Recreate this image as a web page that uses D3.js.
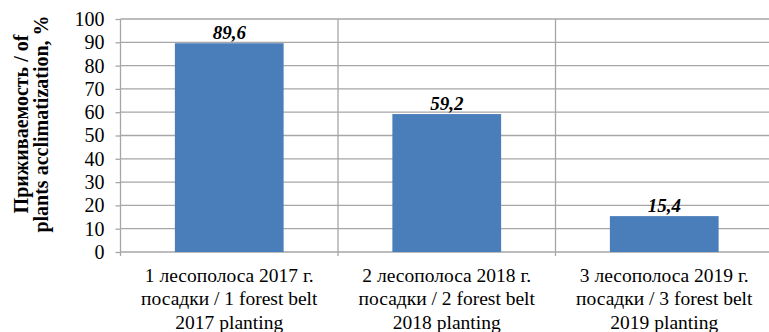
<!DOCTYPE html>
<html>
<head>
<meta charset="utf-8">
<script src="https://cdn.jsdelivr.net/npm/d3@7"></script>
<style>
    body { margin: 0; background: #fff; }
    svg text { font-family: "Liberation Serif", "DejaVu Serif", serif; }
</style>
</head>
<body>
<div id="chart"></div>
<script>
// data
const categories = ["belt1", "belt2", "belt3"]
const categoryLines = [
    ["1 лесополоса 2017 г.", "посадки / 1 forest belt", "2017 planting"],
    ["2 лесополоса 2018 г.", "посадки / 2 forest belt", "2018 planting"],
    ["3 лесополоса 2019 г.", "посадки / 3 forest belt", "2019 planting"]
]
const values = [89.6, 59.2, 15.4]
const valueLabels = ["89,6", "59,2", "15,4"]
const yTicks = [0, 10, 20, 30, 40, 50, 60, 70, 80, 90, 100]
const yTitle = ["Приживаемость / of", "plants acclimatization, %"]

const W = 769, H = 332
const margin = { top: 19, right: -4, bottom: 80, left: 120.5 }
const width = W - margin.left - margin.right
const height = H - margin.top - margin.bottom

const svg = d3.select("#chart").append("svg")
    .attr("width", W)
    .attr("height", H)

const g = svg.append("g")
    .attr("transform", "translate(" + margin.left + "," + margin.top + ")")

const x = d3.scaleBand()
    .domain(categories)
    .range([0, width])
    .paddingInner(0.5)
    .paddingOuter(0.25)

const y = d3.scaleLinear()
    .domain([0, 100])
    .range([height, 0])

const GRID = "#a6a6a6"

// horizontal grid
g.selectAll(".hgrid")
    .data(yTicks.filter(d => d > 0))
    .enter().append("line")
    .attr("class", "hgrid")
    .attr("x1", 0).attr("x2", width)
    .attr("y1", d => y(d)).attr("y2", d => y(d))
    .attr("stroke", GRID)
    .attr("stroke-width", 1.3)

// vertical grid at category boundaries
const step = x.step()
const bounds = categories.map(c => x(c) - x.paddingOuter() * step + step)
g.selectAll(".vgrid")
    .data(bounds.slice(0, -1))
    .enter().append("line")
    .attr("class", "vgrid")
    .attr("x1", d => d).attr("x2", d => d)
    .attr("y1", 0).attr("y2", height + 4)
    .attr("stroke", GRID)
    .attr("stroke-width", 1.3)

// y axis
const yAxis = d3.axisLeft(y)
    .tickValues(yTicks)
    .tickSize(5)
    .tickPadding(11)

g.append("g")
    .attr("class", "y-axis")
    .call(yAxis)
    .attr("font-family", null)
    .call(a => a.select(".domain").attr("stroke", GRID).attr("stroke-width", 1.3).attr("d", "M0," + (height + 4) + "V0"))
    .call(a => a.selectAll(".tick line").attr("stroke", GRID).attr("stroke-width", 1.3))
    .call(a => a.selectAll(".tick text")
        .attr("font-size", "20px")
        .attr("fill", "#000"))

// x axis line
g.append("line")
    .attr("x1", 0).attr("x2", width)
    .attr("y1", height).attr("y2", height)
    .attr("stroke", GRID)
    .attr("stroke-width", 1.3)

// bars
g.selectAll(".bar")
    .data(values)
    .enter().append("rect")
    .attr("class", "bar")
    .attr("x", (d, i) => x(categories[i]))
    .attr("width", x.bandwidth())
    .attr("y", d => y(d))
    .attr("height", d => height - y(d))
    .attr("fill", "#4a7ebb")

// value labels
g.selectAll(".val")
    .data(values)
    .enter().append("text")
    .attr("class", "val")
    .attr("x", (d, i) => x(categories[i]) + x.bandwidth() / 2)
    .attr("y", d => y(d) - 4)
    .attr("text-anchor", "middle")
    .attr("font-size", "19px")
    .attr("font-weight", "bold")
    .attr("font-style", "italic")
    .text((d, i) => valueLabels[i])

// category labels
const catG = g.selectAll(".cat")
    .data(categories)
    .enter().append("text")
    .attr("class", "cat")
    .attr("text-anchor", "middle")
    .attr("font-size", "19.5px")
    .attr("transform", d => "translate(" + (x(d) + x.bandwidth() / 2) + "," + (height + 29.5) + ")")

catG.selectAll("tspan")
    .data((d, i) => categoryLines[i])
    .enter().append("tspan")
    .attr("x", 0)
    .attr("y", (d, i) => i * 23.5)
    .text(d => d)

// y title
svg.append("text")
    .attr("transform", "translate(28,124) rotate(-90)")
    .attr("text-anchor", "middle")
    .attr("font-size", "20px")
    .attr("font-weight", "bold")
    .selectAll("tspan")
    .data(yTitle)
    .enter().append("tspan")
    .attr("x", 0)
    .attr("y", (d, i) => i * 20)
    .text(d => d)
</script>
</body>
</html>
